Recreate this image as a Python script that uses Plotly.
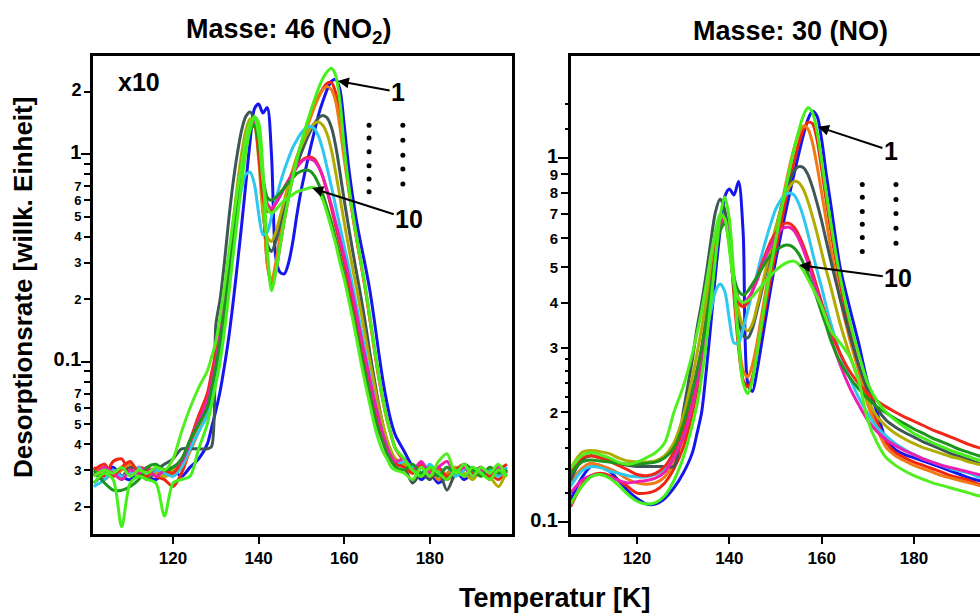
import plotly.graph_objects as go

# ---------------- LEFT PANEL (Masse 46, NO2) ----------------
LT = [101.5, 104, 106, 108, 110, 112, 114, 116, 118, 120, 122, 124, 126,
      128, 129, 130, 131, 132, 133, 134, 135, 136, 137, 138, 139, 140, 141, 142, 143, 144,
      145, 146, 147, 148, 149, 150, 151, 152, 153, 154, 155, 156, 157, 158, 159, 160,
      161, 162, 163, 164, 165, 166, 167, 168, 169, 170, 171, 172,
      174, 176, 178, 180, 182, 184, 186, 188, 190, 192, 194, 196, 198]

L_lime_a = ([0.026, 0.029, 0.027, 0.016, 0.026, 0.028, 0.027, 0.026, 0.018, 0.026, 0.027, 0.028, 0.038]
            + [0.05, 0.062, 0.078, 0.10, 0.14, 0.21, 0.32, 0.48, 0.72, 1.02,
               1.32, 1.52, 1.42, 0.85, 0.36, 0.22, 0.27, 0.36, 0.48, 0.62,
               0.78, 0.95, 1.14, 1.35, 1.58, 1.82, 2.08, 2.32, 2.5, 2.6,
               2.4, 1.8, 1.08, 0.72, 0.52, 0.39, 0.3, 0.225, 0.165, 0.12,
               0.088, 0.067, 0.053, 0.044, 0.038]
            + [0.034, 0.030, 0.028, 0.031, 0.029, 0.027, 0.030, 0.028, 0.031, 0.029, 0.027, 0.030, 0.028])
L_blue = ([0.026, 0.029, 0.031, 0.028, 0.027, 0.030, 0.028, 0.027, 0.029, 0.030, 0.028, 0.031, 0.034]
          + [0.04, 0.048, 0.058, 0.072, 0.095, 0.13, 0.19, 0.29, 0.45, 0.72,
             1.15, 1.65, 1.75, 1.58, 1.68, 1.0, 0.32, 0.27, 0.265, 0.3,
             0.38, 0.52, 0.68, 0.85, 1.05, 1.28, 1.55, 1.8, 2.05, 2.25,
             2.3, 2.05, 1.38, 0.88, 0.62, 0.46, 0.36, 0.285, 0.22, 0.16,
             0.113, 0.082, 0.063, 0.051, 0.044]
          + [0.037, 0.031, 0.027, 0.029, 0.026, 0.028, 0.030, 0.027, 0.029, 0.031, 0.028, 0.030, 0.029])
L_red_a = ([0.031, 0.028, 0.033, 0.034, 0.029, 0.031, 0.030, 0.028, 0.027, 0.025, 0.029, 0.038, 0.05]
           + [0.062, 0.078, 0.1, 0.135, 0.19, 0.28, 0.41, 0.6, 0.86, 1.15,
              1.38, 1.45, 1.2, 0.62, 0.3, 0.235, 0.27, 0.36, 0.48, 0.62,
              0.78, 0.94, 1.12, 1.3, 1.5, 1.7, 1.9, 2.07, 2.2, 2.22,
              1.98, 1.5, 1.02, 0.7, 0.51, 0.38, 0.29, 0.22, 0.16, 0.117,
              0.086, 0.066, 0.053, 0.044, 0.038]
           + [0.033, 0.029, 0.031, 0.028, 0.030, 0.027, 0.029, 0.031, 0.028, 0.030, 0.029, 0.027, 0.030])
L_orange = ([0.029, 0.031, 0.028, 0.030, 0.032, 0.029, 0.027, 0.030, 0.028, 0.029, 0.031, 0.037, 0.046]
            + [0.058, 0.072, 0.092, 0.125, 0.175, 0.26, 0.38, 0.56, 0.82, 1.12,
               1.38, 1.5, 1.35, 0.7, 0.3, 0.245, 0.3, 0.4, 0.52, 0.66,
               0.82, 0.97, 1.13, 1.3, 1.48, 1.68, 1.88, 2.05, 2.12, 2.05,
               1.8, 1.35, 0.95, 0.68, 0.5, 0.38, 0.29, 0.22, 0.16, 0.115,
               0.085, 0.065, 0.052, 0.044, 0.038]
            + [0.034, 0.030, 0.028, 0.030, 0.027, 0.029, 0.031, 0.028, 0.030, 0.028, 0.031, 0.029, 0.028])
L_gray = ([0.029, 0.027, 0.030, 0.028, 0.031, 0.029, 0.027, 0.030, 0.032, 0.034, 0.038, 0.038, 0.038]
          + [0.038, 0.039, 0.15, 0.2, 0.3, 0.48, 0.72, 1.0, 1.3, 1.52,
             1.6, 1.45, 1.05, 0.55, 0.37, 0.34, 0.38, 0.46, 0.56, 0.67,
             0.78, 0.9, 1.02, 1.15, 1.28, 1.4, 1.5, 1.54, 1.5, 1.35,
             1.1, 0.82, 0.6, 0.45, 0.34, 0.26, 0.2, 0.15, 0.11, 0.083,
             0.063, 0.05, 0.041, 0.036, 0.033]
          + [0.031, 0.026, 0.029, 0.027, 0.030, 0.024, 0.029, 0.031, 0.028, 0.030, 0.027, 0.031, 0.029])
L_olive = ([0.028, 0.030, 0.029, 0.027, 0.030, 0.028, 0.031, 0.029, 0.028, 0.030, 0.032, 0.04, 0.05]
           + [0.06, 0.075, 0.095, 0.13, 0.19, 0.3, 0.46, 0.7, 1.0, 1.3,
              1.48, 1.4, 0.95, 0.52, 0.4, 0.38, 0.42, 0.5, 0.6, 0.72,
              0.85, 0.98, 1.1, 1.22, 1.33, 1.41, 1.43, 1.38, 1.25, 1.05,
              0.82, 0.62, 0.47, 0.36, 0.28, 0.22, 0.17, 0.13, 0.1, 0.078,
              0.061, 0.05, 0.042, 0.037, 0.034]
           + [0.032, 0.029, 0.031, 0.028, 0.030, 0.028, 0.031, 0.029, 0.027, 0.030, 0.028, 0.025, 0.030])
L_cyan = ([0.025, 0.027, 0.030, 0.028, 0.029, 0.031, 0.028, 0.030, 0.029, 0.028, 0.031, 0.038, 0.046]
          + [0.055, 0.07, 0.088, 0.12, 0.17, 0.25, 0.37, 0.52, 0.68, 0.8,
             0.82, 0.72, 0.52, 0.41, 0.42, 0.5, 0.6, 0.72, 0.84, 0.96,
             1.08, 1.18, 1.27, 1.33, 1.36, 1.33, 1.22, 1.05, 0.86, 0.7,
             0.56, 0.45, 0.36, 0.29, 0.23, 0.18, 0.14, 0.11, 0.085, 0.067,
             0.054, 0.045, 0.039, 0.035, 0.032]
          + [0.033, 0.031, 0.029, 0.032, 0.029, 0.031, 0.028, 0.030, 0.031, 0.029, 0.030, 0.028, 0.031])
L_red_b = ([0.030, 0.032, 0.028, 0.031, 0.033, 0.029, 0.028, 0.031, 0.030, 0.029, 0.033, 0.042, 0.055]
           + [0.07, 0.088, 0.11, 0.15, 0.21, 0.31, 0.45, 0.65, 0.9, 1.15,
              1.35, 1.38, 1.0, 0.62, 0.53, 0.54, 0.58, 0.63, 0.69, 0.75,
              0.82, 0.88, 0.93, 0.96, 0.97, 0.95, 0.88, 0.78, 0.66, 0.55,
              0.45, 0.37, 0.3, 0.24, 0.19, 0.15, 0.12, 0.095, 0.075, 0.06,
              0.05, 0.042, 0.037, 0.034, 0.032]
           + [0.031, 0.029, 0.032, 0.029, 0.031, 0.028, 0.030, 0.032, 0.029, 0.031, 0.028, 0.030, 0.032])
L_magenta = ([0.028, 0.031, 0.029, 0.027, 0.030, 0.029, 0.031, 0.028, 0.030, 0.031, 0.033, 0.041, 0.052]
             + [0.065, 0.08, 0.1, 0.135, 0.19, 0.28, 0.41, 0.6, 0.85, 1.12,
                1.35, 1.42, 1.2, 0.75, 0.58, 0.55, 0.58, 0.63, 0.69, 0.75,
                0.81, 0.87, 0.92, 0.95, 0.95, 0.93, 0.87, 0.78, 0.67, 0.57,
                0.47, 0.39, 0.32, 0.26, 0.21, 0.165, 0.13, 0.103, 0.082, 0.066,
                0.054, 0.045, 0.039, 0.035, 0.033]
             + [0.034, 0.030, 0.033, 0.029, 0.031, 0.033, 0.029, 0.031, 0.028, 0.030, 0.029, 0.031, 0.029])
L_dgreen = ([0.030, 0.026, 0.024, 0.024, 0.025, 0.027, 0.031, 0.032, 0.030, 0.031, 0.034, 0.042, 0.05]
            + [0.06, 0.074, 0.094, 0.125, 0.175, 0.26, 0.38, 0.56, 0.8, 1.08,
               1.3, 1.38, 1.15, 0.78, 0.62, 0.6, 0.62, 0.65, 0.69, 0.73,
               0.77, 0.81, 0.83, 0.84, 0.83, 0.79, 0.72, 0.64, 0.55, 0.47,
               0.39, 0.32, 0.26, 0.21, 0.17, 0.135, 0.107, 0.086, 0.069, 0.056,
               0.047, 0.041, 0.036, 0.033, 0.031]
            + [0.030, 0.032, 0.029, 0.031, 0.028, 0.031, 0.029, 0.032, 0.030, 0.028, 0.031, 0.029, 0.030])
L_lime_b = ([0.028, 0.030, 0.029, 0.031, 0.028, 0.030, 0.029, 0.031, 0.030, 0.034, 0.046, 0.06, 0.075]
            + [0.09, 0.105, 0.125, 0.165, 0.23, 0.33, 0.47, 0.66, 0.9, 1.18,
               1.42, 1.5, 1.25, 0.75, 0.55, 0.52, 0.54, 0.57, 0.6, 0.62,
               0.64, 0.66, 0.67, 0.68, 0.69, 0.69, 0.66, 0.6, 0.52, 0.44,
               0.37, 0.3, 0.25, 0.2, 0.16, 0.125, 0.097, 0.077, 0.062, 0.05,
               0.042, 0.037, 0.034, 0.031, 0.03]
            + [0.029, 0.027, 0.031, 0.028, 0.033, 0.036, 0.029, 0.032, 0.028, 0.031, 0.029, 0.032, 0.028])

# ---------------- RIGHT PANEL (Masse 30, NO) ----------------
RT = [105.6, 108, 110, 112, 114, 116, 118, 120, 122, 124, 126, 128, 130, 132,
      133, 134, 135, 136, 137, 138, 139, 140, 141, 142,
      143, 144, 145, 146, 147, 148, 149, 150, 151, 152,
      153, 154, 155, 156, 157, 158, 159, 160, 161, 162,
      164, 166, 168, 170, 172, 174, 176, 178, 180, 182, 184, 186, 188, 190, 192, 194, 196]

R_lime_a = ([0.112, 0.125, 0.133, 0.135, 0.132, 0.126, 0.119, 0.114, 0.112, 0.113, 0.118, 0.13, 0.15, 0.185]
            + [0.21, 0.25, 0.31, 0.4, 0.53, 0.69, 0.78, 0.68, 0.47, 0.31,
               0.24, 0.225, 0.245, 0.29, 0.35, 0.42, 0.5, 0.59, 0.69, 0.8,
               0.92, 1.05, 1.18, 1.3, 1.37, 1.33, 1.18, 0.98, 0.8, 0.66]
            + [0.47, 0.36, 0.29, 0.24, 0.215, 0.2, 0.19, 0.182, 0.175, 0.17, 0.165, 0.161, 0.157, 0.154, 0.151, 0.148, 0.146])
R_blue = ([0.115, 0.132, 0.142, 0.143, 0.138, 0.13, 0.122, 0.116, 0.112, 0.112, 0.116, 0.124, 0.136, 0.155]
          + [0.175, 0.2, 0.26, 0.35, 0.48, 0.63, 0.78, 0.82, 0.79, 0.86,
             0.62, 0.24, 0.228, 0.26, 0.31, 0.37, 0.44, 0.52, 0.6, 0.69,
             0.79, 0.9, 1.02, 1.15, 1.27, 1.34, 1.3, 1.12, 0.9, 0.74]
          + [0.5, 0.39, 0.31, 0.24, 0.2, 0.168, 0.158, 0.153, 0.15, 0.147, 0.144, 0.141, 0.138, 0.135, 0.132, 0.13, 0.128])
R_red_a = ([0.11, 0.126, 0.134, 0.136, 0.134, 0.13, 0.125, 0.12, 0.12, 0.122, 0.128, 0.14, 0.16, 0.2]
           + [0.23, 0.27, 0.33, 0.42, 0.54, 0.66, 0.7, 0.6, 0.42, 0.3,
              0.245, 0.235, 0.25, 0.29, 0.34, 0.4, 0.47, 0.55, 0.64, 0.74,
              0.85, 0.97, 1.09, 1.19, 1.25, 1.24, 1.12, 0.93, 0.76, 0.63]
           + [0.45, 0.34, 0.27, 0.22, 0.188, 0.165, 0.155, 0.15, 0.146, 0.143, 0.14, 0.137, 0.134, 0.132, 0.13, 0.127, 0.125])
R_orange = ([0.128, 0.14, 0.145, 0.143, 0.14, 0.136, 0.131, 0.128, 0.127, 0.128, 0.133, 0.145, 0.17, 0.21]
            + [0.24, 0.28, 0.34, 0.43, 0.55, 0.66, 0.7, 0.61, 0.44, 0.32,
               0.26, 0.25, 0.27, 0.31, 0.37, 0.44, 0.52, 0.61, 0.71, 0.82,
               0.94, 1.06, 1.16, 1.22, 1.2, 1.1, 0.95, 0.8, 0.67, 0.56]
            + [0.41, 0.32, 0.26, 0.21, 0.18, 0.16, 0.152, 0.147, 0.143, 0.14, 0.137, 0.134, 0.132, 0.13, 0.128, 0.126, 0.124])
R_gray = ([0.13, 0.148, 0.152, 0.15, 0.148, 0.145, 0.143, 0.142, 0.142, 0.142, 0.142, 0.142, 0.2, 0.28]
          + [0.34, 0.4, 0.48, 0.59, 0.71, 0.77, 0.72, 0.58, 0.44, 0.36,
             0.325, 0.32, 0.34, 0.38, 0.43, 0.49, 0.56, 0.63, 0.71, 0.79,
             0.86, 0.92, 0.945, 0.94, 0.9, 0.83, 0.75, 0.67, 0.59, 0.52]
          + [0.41, 0.33, 0.27, 0.23, 0.205, 0.19, 0.182, 0.176, 0.171, 0.166, 0.162, 0.158, 0.154, 0.151, 0.148, 0.145, 0.143])
R_olive = ([0.14, 0.155, 0.157, 0.156, 0.154, 0.15, 0.147, 0.146, 0.146, 0.147, 0.152, 0.165, 0.195, 0.25]
           + [0.29, 0.34, 0.41, 0.5, 0.6, 0.68, 0.68, 0.58, 0.46, 0.38,
              0.345, 0.335, 0.35, 0.39, 0.44, 0.5, 0.57, 0.64, 0.71, 0.78,
              0.83, 0.86, 0.855, 0.82, 0.76, 0.69, 0.62, 0.55, 0.49, 0.44]
           + [0.35, 0.29, 0.245, 0.215, 0.195, 0.183, 0.175, 0.169, 0.164, 0.16, 0.157, 0.154, 0.151, 0.149, 0.146, 0.144, 0.142])
R_cyan = ([0.125, 0.138, 0.142, 0.141, 0.138, 0.136, 0.134, 0.133, 0.133, 0.135, 0.14, 0.152, 0.175, 0.215]
          + [0.25, 0.29, 0.33, 0.38, 0.43, 0.45, 0.43, 0.36, 0.31, 0.31,
             0.34, 0.38, 0.43, 0.48, 0.54, 0.6, 0.66, 0.72, 0.76, 0.79,
             0.8, 0.79, 0.75, 0.69, 0.62, 0.55, 0.49, 0.44, 0.39, 0.35]
          + [0.29, 0.25, 0.22, 0.198, 0.182, 0.172, 0.164, 0.158, 0.153, 0.149, 0.146, 0.143, 0.14, 0.138, 0.136, 0.133, 0.131])
R_red_b = ([0.138, 0.15, 0.152, 0.15, 0.147, 0.143, 0.139, 0.135, 0.134, 0.136, 0.142, 0.156, 0.18, 0.225]
           + [0.26, 0.3, 0.36, 0.44, 0.55, 0.65, 0.68, 0.58, 0.45, 0.4,
              0.39, 0.4, 0.43, 0.47, 0.51, 0.55, 0.59, 0.62, 0.645, 0.66,
              0.66, 0.645, 0.615, 0.575, 0.53, 0.485, 0.44, 0.4, 0.365, 0.335]
           + [0.29, 0.26, 0.24, 0.225, 0.215, 0.207, 0.2, 0.194, 0.189, 0.184, 0.179, 0.175, 0.171, 0.167, 0.163, 0.16, 0.158])
R_magenta = ([0.12, 0.13, 0.134, 0.135, 0.133, 0.13, 0.128, 0.129, 0.13, 0.132, 0.137, 0.15, 0.17, 0.21]
             + [0.24, 0.28, 0.34, 0.43, 0.54, 0.64, 0.68, 0.6, 0.47, 0.41,
                0.4, 0.41, 0.43, 0.46, 0.5, 0.54, 0.575, 0.605, 0.63, 0.643,
                0.644, 0.63, 0.6, 0.56, 0.515, 0.47, 0.43, 0.39, 0.355, 0.32]
             + [0.27, 0.235, 0.21, 0.19, 0.177, 0.168, 0.162, 0.157, 0.153, 0.149, 0.146, 0.143, 0.141, 0.139, 0.137, 0.135, 0.133])
R_dgreen = ([0.135, 0.146, 0.148, 0.147, 0.146, 0.145, 0.144, 0.144, 0.145, 0.146, 0.15, 0.16, 0.185, 0.23]
            + [0.26, 0.3, 0.36, 0.44, 0.54, 0.63, 0.66, 0.58, 0.47, 0.43,
               0.42, 0.43, 0.45, 0.47, 0.495, 0.52, 0.54, 0.555, 0.567, 0.575,
               0.575, 0.565, 0.545, 0.515, 0.48, 0.445, 0.41, 0.375, 0.345, 0.315]
            + [0.275, 0.25, 0.232, 0.218, 0.207, 0.199, 0.192, 0.186, 0.18, 0.175, 0.17, 0.166, 0.162, 0.158, 0.155, 0.152, 0.15])
R_lime_b = ([0.14, 0.152, 0.155, 0.153, 0.15, 0.146, 0.144, 0.146, 0.15, 0.155, 0.165, 0.2, 0.235, 0.29]
            + [0.33, 0.38, 0.45, 0.54, 0.63, 0.7, 0.68, 0.56, 0.45, 0.41,
               0.4, 0.405, 0.415, 0.43, 0.445, 0.46, 0.475, 0.49, 0.502, 0.512,
               0.518, 0.52, 0.51, 0.49, 0.465, 0.44, 0.415, 0.39, 0.36, 0.335]
            + [0.31, 0.285, 0.245, 0.19, 0.165, 0.15, 0.143, 0.138, 0.134, 0.131, 0.128, 0.126, 0.124, 0.122, 0.12, 0.118, 0.117])

# ---------------- ticks ----------------
LY_TICKS = [2, 1, 0.9, 0.8, 0.7, 0.6, 0.5, 0.4, 0.3, 0.2, 0.1, 0.09, 0.08, 0.07, 0.06, 0.05, 0.04, 0.03, 0.02]
LY_TEXT = ["2", "1", "", "", "7", "6", "5", "4", "3", "2", "0.1", "", "", "7", "6", "5", "4", "3", "2"]
LY_BIG = {"1": 20, "0.1": 20, "2top": 18}
RY_TICKS = [1, 0.9, 0.8, 0.7, 0.6, 0.5, 0.4, 0.3, 0.2, 0.1]
RY_TEXT = ["1", "9", "8", "7", "6", "5", "4", "3", "2", "0.1"]
RY_BIG = {"1": 20, "0.1": 20}
RY_MINOR = [0.12, 0.14, 0.16, 0.18, 0.22, 0.24, 0.26, 0.28, 1.2, 1.4]
X_TICKS = [120, 140, 160, 180]

# dotted "..." columns (value positions)
DOTS_L = ([165.8] * 6 + [173.7] * 5, [1.38, 1.20, 1.03, 0.88, 0.76, 0.66, 1.38, 1.17, 0.99, 0.85, 0.72])
DOTS_R = ([168.8] * 6 + [176.1] * 5, [0.844, 0.778, 0.712, 0.656, 0.604, 0.553, 0.844, 0.768, 0.703, 0.640, 0.582])

SERIES = ["blue", "red_a", "orange", "gray", "olive", "cyan", "red_b", "magenta", "dgreen", "lime_b", "lime_a"]
LEFT = {"blue": L_blue, "red_a": L_red_a, "orange": L_orange, "gray": L_gray, "olive": L_olive,
        "cyan": L_cyan, "red_b": L_red_b, "magenta": L_magenta, "dgreen": L_dgreen,
        "lime_b": L_lime_b, "lime_a": L_lime_a}
RIGHT = {"blue": R_blue, "red_a": R_red_a, "orange": R_orange, "gray": R_gray, "olive": R_olive,
         "cyan": R_cyan, "red_b": R_red_b, "magenta": R_magenta, "dgreen": R_dgreen,
         "lime_b": R_lime_b, "lime_a": R_lime_a}
COLORS = {"blue": "#1515ee", "red_a": "#f0250f", "orange": "#ef7a14", "gray": "#3e5656",
          "olive": "#b2ac00", "cyan": "#2ec8ef", "red_b": "#f02818", "magenta": "#ee1fb0",
          "dgreen": "#1c951c", "lime_b": "#52ee22", "lime_a": "#45f01a"}

for k in SERIES:
    assert len(LEFT[k]) == len(LT), ("left", k, len(LEFT[k]), len(LT))
    assert len(RIGHT[k]) == len(RT), ("right", k, len(RIGHT[k]), len(RT))

FONT = "Liberation Sans, Arial, Helvetica, sans-serif"

fig = go.Figure()
for k in SERIES:
    fig.add_trace(go.Scatter(x=LT, y=LEFT[k], xaxis="x", yaxis="y", mode="lines",
                             line=dict(color=COLORS[k], width=3, shape="spline", smoothing=0.8),
                             hoverinfo="skip", showlegend=False))
for k in SERIES:
    fig.add_trace(go.Scatter(x=RT, y=RIGHT[k], xaxis="x2", yaxis="y2", mode="lines",
                             line=dict(color=COLORS[k], width=3, shape="spline", smoothing=0.8),
                             hoverinfo="skip", showlegend=False))
fig.add_trace(go.Scatter(x=DOTS_L[0], y=DOTS_L[1], xaxis="x", yaxis="y", mode="markers",
                         marker=dict(color="black", size=5), hoverinfo="skip", showlegend=False))
fig.add_trace(go.Scatter(x=DOTS_R[0], y=DOTS_R[1], xaxis="x2", yaxis="y2", mode="markers",
                         marker=dict(color="black", size=5), hoverinfo="skip", showlegend=False))
# helper traces so the long-tick overlay axes are drawn
fig.add_trace(go.Scatter(x=[150], y=[1], xaxis="x", yaxis="y3", mode="markers",
                         marker=dict(opacity=0), hoverinfo="skip", showlegend=False))
fig.add_trace(go.Scatter(x=[150], y=[1], xaxis="x2", yaxis="y4", mode="markers",
                         marker=dict(opacity=0), hoverinfo="skip", showlegend=False))


def fmt(labels, big, first_key=None):
    out = []
    for i, t in enumerate(labels):
        key = first_key if (i == 0 and first_key) else t
        if t == "":
            out.append("")
        elif key in big:
            out.append('<span style="font-size:%dpx">%s</span>' % (big[key], t))
        else:
            out.append(t)
    return out


YD = [1 - 534 / 614, 1 - 56 / 614]
L_YR = [-1.831, 0.474]
R_YR = [-1.033, 0.279]
tickfont = dict(family=FONT, size=17, color="black", weight="bold")
common_x = dict(tickvals=X_TICKS, ticks="outside", ticklen=7, tickwidth=2, tickcolor="black",
                showline=True, linewidth=3, linecolor="black", mirror=True, showgrid=False,
                zeroline=False, tickfont=tickfont)

fig.update_layout(
    width=980, height=614, autosize=False, margin=dict(l=0, r=0, t=0, b=0),
    paper_bgcolor="white", plot_bgcolor="white", showlegend=False,
    xaxis=dict(domain=[93 / 980, 512 / 980], range=[101.3, 199.2], anchor="y", **common_x),
    yaxis=dict(domain=YD, type="log", range=L_YR, anchor="x",
               tickmode="array", tickvals=LY_TICKS, ticktext=fmt(LY_TEXT, LY_BIG, "2top"),
               ticks="outside", ticklen=6, tickwidth=2, tickcolor="black",
               showline=True, linewidth=3, linecolor="black", mirror=True,
               showgrid=False, zeroline=False,
               tickfont=dict(family=FONT, size=13, color="black", weight="bold")),
    yaxis3=dict(overlaying="y", anchor="x", side="left", type="log", range=L_YR,
                tickmode="array", tickvals=[1, 0.1], ticktext=["", ""],
                ticks="outside", ticklen=11, tickwidth=2, tickcolor="black",
                showline=False, showgrid=False, zeroline=False),
    xaxis2=dict(domain=[571 / 980, 1.0], range=[105.7, 194.3], anchor="y2", **common_x),
    yaxis2=dict(domain=YD, type="log", range=R_YR, anchor="x2",
                tickmode="array", tickvals=RY_TICKS, ticktext=fmt(RY_TEXT, RY_BIG),
                ticks="outside", ticklen=7, tickwidth=2, tickcolor="black",
                minor=dict(tickmode="array", tickvals=RY_MINOR, ticks="outside", ticklen=3,
                           tickwidth=2, tickcolor="black", showgrid=False),
                showline=True, linewidth=3, linecolor="black", mirror=False,
                showgrid=False, zeroline=False,
                tickfont=dict(family=FONT, size=15, color="black", weight="bold")),
    yaxis4=dict(overlaying="y2", anchor="x2", side="left", type="log", range=R_YR,
                tickmode="array", tickvals=[1, 0.1], ticktext=["", ""],
                ticks="outside", ticklen=12, tickwidth=2, tickcolor="black",
                showline=False, showgrid=False, zeroline=False),
)

bold = dict(family=FONT, color="black", weight="bold")
ann = []
ann.append(dict(text="Masse: 46 (NO<sub>2</sub>)", x=289 / 980, y=1 - 31 / 614, xref="paper", yref="paper",
                showarrow=False, xanchor="center", yanchor="middle", font=dict(size=27, **bold)))
ann.append(dict(text="Masse: 30 (NO)", x=790 / 980, y=1 - 31 / 614, xref="paper", yref="paper",
                showarrow=False, xanchor="center", yanchor="middle", font=dict(size=27, **bold)))
ann.append(dict(text="Desorptionsrate [willk. Einheit]", x=23 / 980, y=1 - 288 / 614, xref="paper",
                yref="paper", showarrow=False, textangle=-90, xanchor="center", yanchor="middle",
                font=dict(size=26, **bold)))
ann.append(dict(text="Temperatur [K]", x=555 / 980, y=1 - 598 / 614, xref="paper", yref="paper",
                showarrow=False, xanchor="center", yanchor="middle", font=dict(size=27, **bold)))
ann.append(dict(text="x10", x=139 / 980, y=1 - 82 / 614, xref="paper", yref="paper",
                showarrow=False, xanchor="center", yanchor="middle", font=dict(size=25, **bold)))

arrow = dict(showarrow=True, arrowhead=2, arrowsize=1.1, arrowwidth=2, arrowcolor="black",
             standoff=0, font=dict(size=25, **bold))
for (xr, yr, tx, ty, lx, ly, txt) in [
        ("x", "y", 158.5, 0.354, 172.6, 0.300, "1"),
        ("x", "y", 152.5, -0.163, 175.2, -0.313, "10"),
        ("x2", "y2", 159.2, 0.085, 175.0, 0.019, "1"),
        ("x2", "y2", 155.1, -0.295, 176.6, -0.331, "10")]:
    a = dict(arrow)
    a.update(dict(text=txt, x=tx, y=ty, xref=xr, yref=yr, ax=lx, ay=ly, axref=xr, ayref=yr))
    ann.append(a)

fig.update_layout(annotations=ann)
fig.write_html("out.html")
